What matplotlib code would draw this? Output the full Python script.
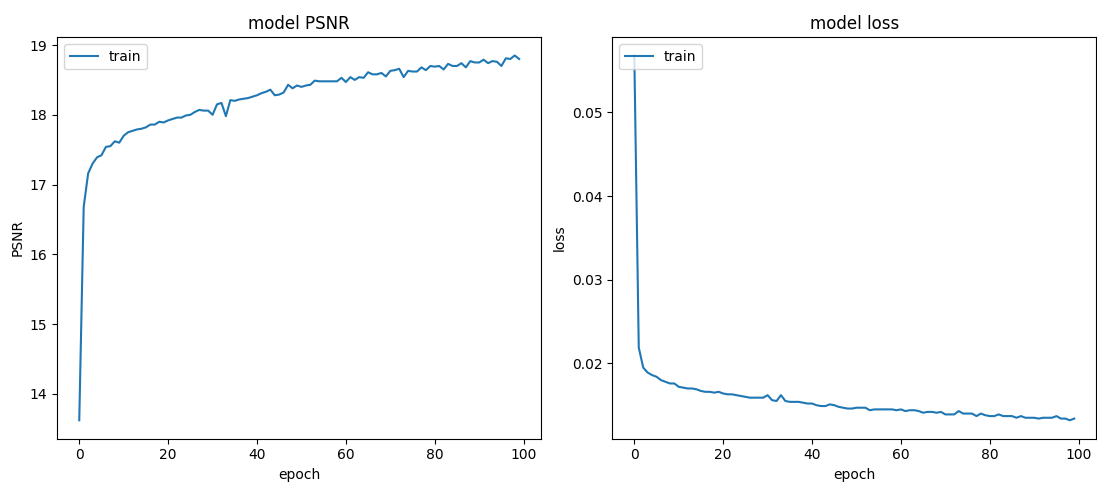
import matplotlib
matplotlib.use('Agg')
import matplotlib.pyplot as plt

epochs = list(range(100))

psnr = [13.62, 16.68, 17.16, 17.30, 17.39, 17.42, 17.54, 17.55, 17.62, 17.60,
        17.70, 17.75, 17.77, 17.79, 17.80, 17.82, 17.86, 17.86, 17.90, 17.89,
        17.92, 17.94, 17.96, 17.96, 17.99, 18.00, 18.04, 18.07, 18.06, 18.06,
        18.00, 18.15, 18.17, 17.98, 18.21, 18.20, 18.22, 18.23, 18.24, 18.26,
        18.28, 18.31, 18.33, 18.36, 18.28, 18.29, 18.32, 18.43, 18.38, 18.42,
        18.40, 18.42, 18.43, 18.49, 18.48, 18.48, 18.48, 18.48, 18.48, 18.53,
        18.47, 18.54, 18.50, 18.54, 18.53, 18.61, 18.58, 18.58, 18.60, 18.55,
        18.63, 18.64, 18.66, 18.54, 18.63, 18.62, 18.62, 18.68, 18.64, 18.70,
        18.69, 18.70, 18.65, 18.73, 18.70, 18.70, 18.74, 18.68, 18.77, 18.75,
        18.75, 18.79, 18.74, 18.77, 18.76, 18.70, 18.81, 18.80, 18.85, 18.80]

loss = [0.0568, 0.0219, 0.0195, 0.0189, 0.0186, 0.0184, 0.0180, 0.0178, 0.0176, 0.0176,
        0.0172, 0.0171, 0.0170, 0.0170, 0.0169, 0.0167, 0.0166, 0.0166, 0.0165, 0.0166,
        0.0164, 0.0163, 0.0163, 0.0162, 0.0161, 0.0160, 0.0159, 0.0159, 0.0159, 0.0159,
        0.0162, 0.0156, 0.0155, 0.0162, 0.0155, 0.0154, 0.0154, 0.0154, 0.0153, 0.0152,
        0.0152, 0.0150, 0.0149, 0.0149, 0.0151, 0.0150, 0.0148, 0.0147, 0.0146, 0.0146,
        0.0147, 0.0147, 0.0147, 0.0144, 0.0145, 0.0145, 0.0145, 0.0145, 0.0145, 0.0144,
        0.0145, 0.0143, 0.0144, 0.0144, 0.0143, 0.0141, 0.0142, 0.0142, 0.0141, 0.0142,
        0.0139, 0.0139, 0.0139, 0.0143, 0.0140, 0.0140, 0.0140, 0.0137, 0.0140, 0.0138,
        0.0137, 0.0137, 0.0139, 0.0137, 0.0137, 0.0137, 0.0135, 0.0137, 0.0135, 0.0135,
        0.0135, 0.0134, 0.0135, 0.0135, 0.0135, 0.0137, 0.0134, 0.0134, 0.0132, 0.0134]

fig, (ax1, ax2) = plt.subplots(1, 2, figsize=(10.97, 4.84), dpi=100)
fig.subplots_adjust(left=0.0522, right=0.9993, top=0.923, bottom=0.094, wspace=0.147)

ax1.plot(epochs, psnr, label='train')
ax1.set_title('model PSNR')
ax1.set_xlabel('epoch')
ax1.set_ylabel('PSNR')
ax1.legend(loc='upper left')

ax2.plot(epochs, loss, label='train')
ax2.set_title('model loss')
ax2.set_xlabel('epoch')
ax2.set_ylabel('loss')
ax2.legend(loc='upper left')

plt.savefig('out.png')
